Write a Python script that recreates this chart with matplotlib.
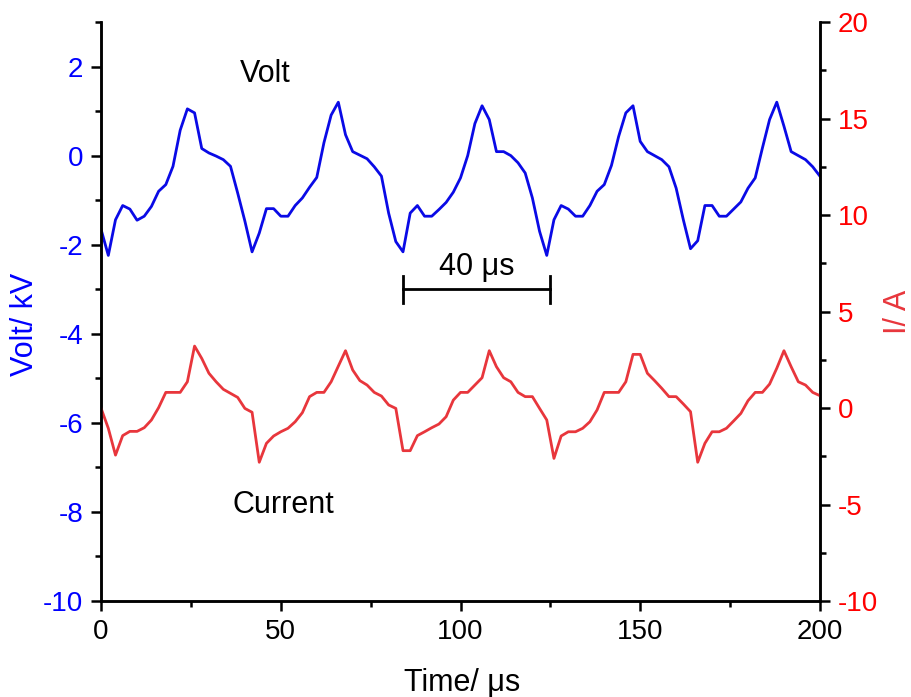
import matplotlib
matplotlib.use("Agg")
import matplotlib.pyplot as plt
import numpy as np
from matplotlib.ticker import MultipleLocator

plt.rcParams['font.family'] = ['Liberation Sans', 'DejaVu Sans']
plt.rcParams['axes.unicode_minus'] = False

# muestras cada 2 us
tiempo = np.arange(0, 201, 2)

volt = [-1.66, -2.24, -1.44, -1.12, -1.20, -1.45, -1.36, -1.14, -0.80, -0.65,
        -0.24, 0.57, 1.05, 0.96, 0.16, 0.06, -0.01, -0.09, -0.24, -0.84,
        -1.47, -2.16, -1.74, -1.19, -1.19, -1.36, -1.36, -1.12, -0.95, -0.71,
        -0.49, 0.29, 0.91, 1.20, 0.47, 0.09, 0.01, -0.07, -0.25, -0.46,
        -1.29, -1.93, -2.16, -1.29, -1.12, -1.36, -1.36, -1.21, -1.05, -0.82,
        -0.50, 0.00, 0.72, 1.12, 0.81, 0.09, 0.09, 0.00, -0.16, -0.39,
        -0.95, -1.70, -2.24, -1.44, -1.12, -1.20, -1.36, -1.36, -1.12, -0.80,
        -0.65, -0.22, 0.43, 0.96, 1.12, 0.32, 0.09, 0.00, -0.09, -0.25,
        -0.73, -1.44, -2.09, -1.91, -1.12, -1.12, -1.36, -1.36, -1.20, -1.04,
        -0.73, -0.50, 0.17, 0.81, 1.20, 0.66, 0.09, 0.00, -0.09, -0.25,
        -0.46]

corriente = [-0.02, -1.05, -2.44, -1.43, -1.21, -1.21, -1.02, -0.62, 0.02, 0.81,
             0.81, 0.81, 1.36, 3.21, 2.57, 1.80, 1.36, 0.97, 0.76, 0.55,
             -0.02, -0.22, -2.81, -1.83, -1.45, -1.23, -1.05, -0.71, -0.24, 0.59,
             0.81, 0.81, 1.36, 2.17, 2.97, 1.97, 1.42, 1.19, 0.81, 0.62,
             0.16, -0.02, -2.21, -2.21, -1.43, -1.23, -1.02, -0.83, -0.45, 0.41,
             0.81, 0.81, 1.19, 1.57, 2.97, 2.14, 1.57, 1.36, 0.81, 0.59,
             0.59, -0.02, -0.62, -2.61, -1.45, -1.23, -1.23, -1.05, -0.71, -0.10,
             0.81, 0.81, 0.81, 1.36, 2.78, 2.78, 1.80, 1.42, 1.02, 0.59,
             0.59, 0.21, -0.19, -2.81, -1.83, -1.23, -1.23, -1.05, -0.67, -0.28,
             0.38, 0.81, 0.81, 1.24, 2.06, 2.97, 2.14, 1.36, 1.19, 0.81,
             0.64]

# barra de escala
barra_ini = 84
barra_fin = 125
barra_y = -3.0

fig = plt.figure(figsize=(9.11, 6.97), dpi=100)
ax = fig.add_axes([0.111, 0.1377, 0.789, 0.8307])
ax2 = ax.twinx()

ax.plot(tiempo, volt, color='#0a0ae6', lw=2.0)
ax2.plot(tiempo, corriente, color='#e8363c', lw=2.0)

ax.set_xlim(0, 200)
ax.set_ylim(-10, 3)
ax2.set_ylim(-10, 20)

for a in (ax, ax2):
    a.spines['top'].set_visible(False)
    for s in ('left', 'right', 'bottom'):
        a.spines[s].set_linewidth(1.8)

ax.xaxis.set_major_locator(MultipleLocator(50))
ax.xaxis.set_minor_locator(MultipleLocator(25))
ax.yaxis.set_major_locator(MultipleLocator(2))
ax.yaxis.set_minor_locator(MultipleLocator(1))
ax2.yaxis.set_major_locator(MultipleLocator(5))
ax2.yaxis.set_minor_locator(MultipleLocator(2.5))

ax.tick_params(axis='both', which='major', direction='out', length=7, width=1.8, labelsize=20, pad=6)
ax.tick_params(axis='both', which='minor', direction='out', length=4, width=1.8)
ax.tick_params(axis='y', labelcolor='#0000ff')
ax2.tick_params(axis='y', which='major', direction='out', length=7, width=1.8, labelsize=20,
                labelcolor='#ff0000', pad=6)
ax2.tick_params(axis='y', which='minor', direction='out', length=4, width=1.8)

ax.set_xlabel('Time/ μs', fontsize=22)
ax.set_ylabel('Volt/ kV', fontsize=22, color='#0000ff')
ax2.set_ylabel('I/ A', fontsize=22, color='#e8363c')
ax.xaxis.set_label_coords(0.502, -0.142)
ax.yaxis.set_label_coords(-0.106, 0.477)
ax2.yaxis.set_label_coords(1.108, 0.5)
for lab in (ax.xaxis.label, ax.yaxis.label, ax2.yaxis.label):
    lab.set_va('center')

ax.text(45.6, 1.84, 'Volt', fontsize=22, ha='center', va='center')
ax.text(50.6, -7.84, 'Current', fontsize=22, ha='center', va='center')

ax.plot([barra_ini, barra_fin], [barra_y, barra_y], color='black', lw=2.0)
ax.plot([barra_ini, barra_ini], [barra_y - 0.3, barra_y + 0.3], color='black', lw=2.0)
ax.plot([barra_fin, barra_fin], [barra_y - 0.3, barra_y + 0.3], color='black', lw=2.0)
ax.text((barra_ini + barra_fin) / 2, barra_y + 0.5, '40 μs', fontsize=22, ha='center', va='center')

fig.savefig('out.png', dpi=100)
